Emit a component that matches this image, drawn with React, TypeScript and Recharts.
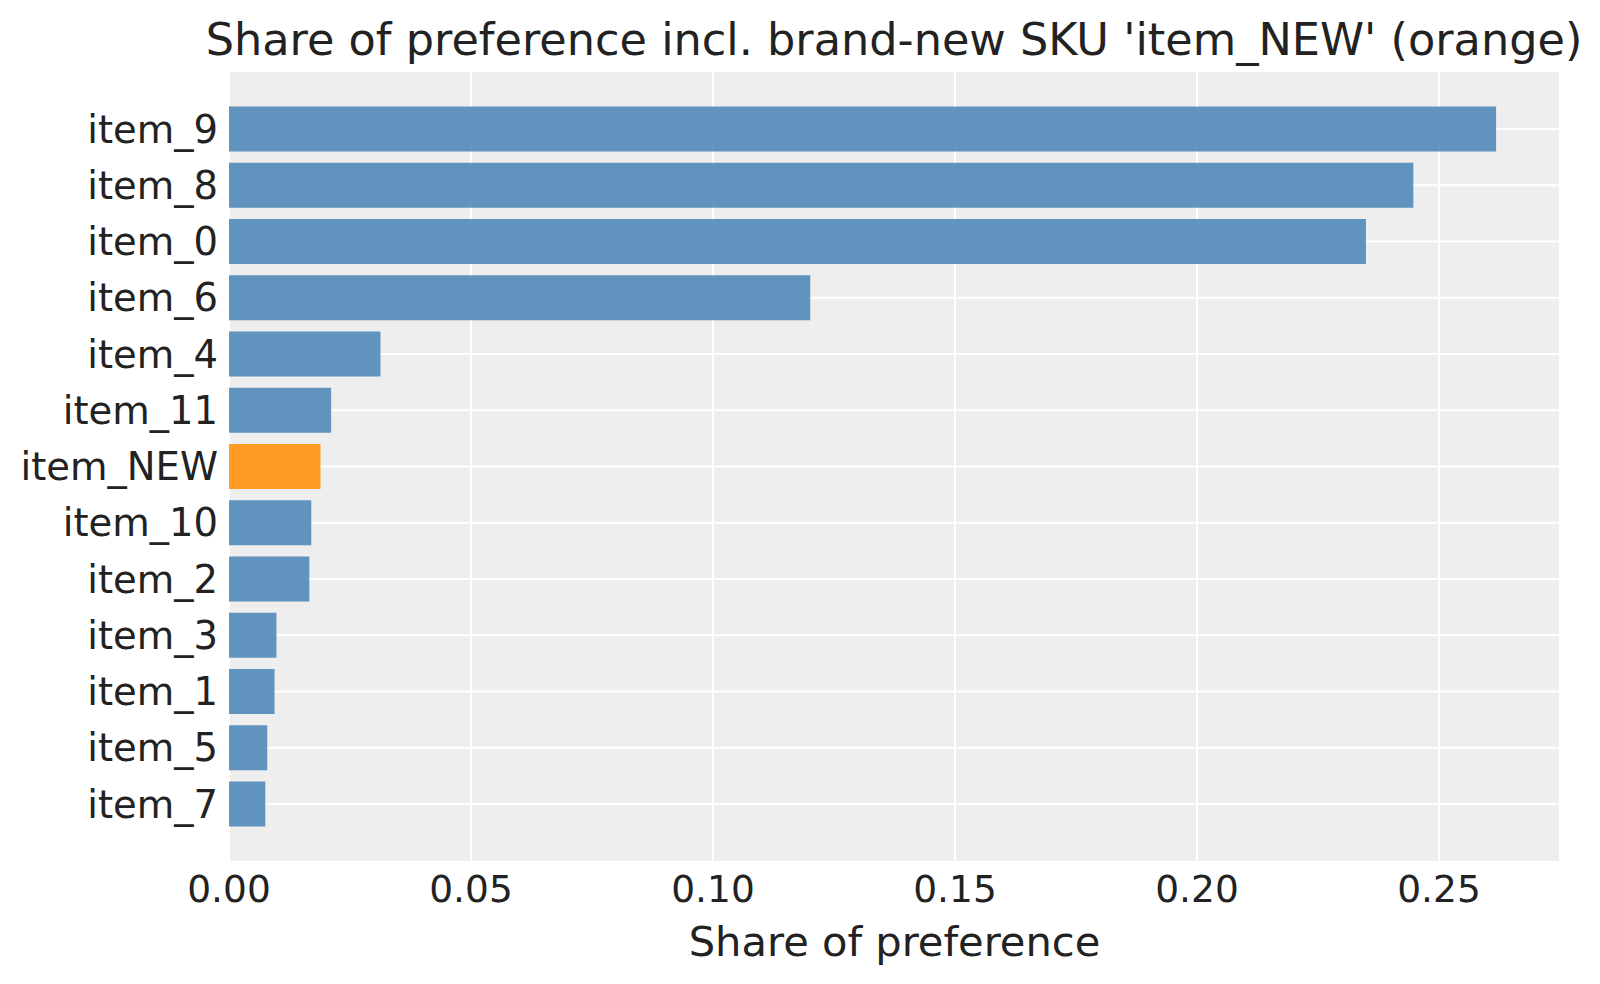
import { BarChart, Bar, XAxis, YAxis, CartesianGrid, Cell } from 'recharts';

// Share of preference per SKU, top to bottom as drawn
const items = [
  'item_9',
  'item_8',
  'item_0',
  'item_6',
  'item_4',
  'item_11',
  'item_NEW',
  'item_10',
  'item_2',
  'item_3',
  'item_1',
  'item_5',
  'item_7',
];
const shares = [
  0.2618, 0.2447, 0.2349, 0.1201, 0.0313, 0.0211, 0.0189, 0.017, 0.0166, 0.0098, 0.0094, 0.0079,
  0.0075,
];
const xTicks = [0, 0.05, 0.1, 0.15, 0.2, 0.25];
const newItem = 'item_NEW';

const data = items.map((name, i) => ({ name, share: shares[i] }));

const FONT = '"DejaVu Sans", sans-serif';
const TEXT = '#222222';

export default function App() {
  return (
    <div style={{ position: 'absolute', left: 0, top: 0, width: 1600, height: 984, background: '#fff' }}>
      <BarChart
        width={1600}
        height={984}
        data={data}
        layout="vertical"
        margin={{ top: 71, right: 40, bottom: 62, left: 0 }}
        barCategoryGap="10%"
        style={{ fontFamily: FONT }}
      >
        <CartesianGrid fill="#eeeeee" stroke="#ffffff" strokeWidth={2} />
        <XAxis
          type="number"
          dataKey="share"
          domain={[0, 0.275]}
          ticks={xTicks}
          tickFormatter={(v: number) => v.toFixed(2)}
          axisLine={false}
          tickLine={false}
          tickSize={0}
          tickMargin={13}
          height={60}
          tick={{ fill: TEXT, fontSize: 37.5, fontFamily: FONT }}
          label={{
            value: 'Share of preference',
            position: 'bottom',
            offset: 4,
            fill: TEXT,
            fontSize: 41.6,
            fontFamily: FONT,
          }}
        />
        <YAxis
          type="category"
          dataKey="name"
          width={229}
          axisLine={false}
          tickLine={false}
          tickSize={0}
          tickMargin={11}
          padding={{ top: 30, bottom: 30 }}
          interval={0}
          tick={{ fill: TEXT, fontSize: 38.5, fontFamily: FONT }}
        />
        <Bar dataKey="share" isAnimationActive={false} fillOpacity={0.85}>
          {data.map((d) => (
            <Cell key={d.name} fill={d.name === newItem ? 'darkorange' : 'steelblue'} />
          ))}
        </Bar>
        <text
          x={894}
          y={55}
          textAnchor="middle"
          fill={TEXT}
          fontSize={44.6}
          fontFamily={FONT}
        >
          Share of preference incl. brand-new SKU 'item_NEW' (orange)
        </text>
      </BarChart>
    </div>
  );
}
